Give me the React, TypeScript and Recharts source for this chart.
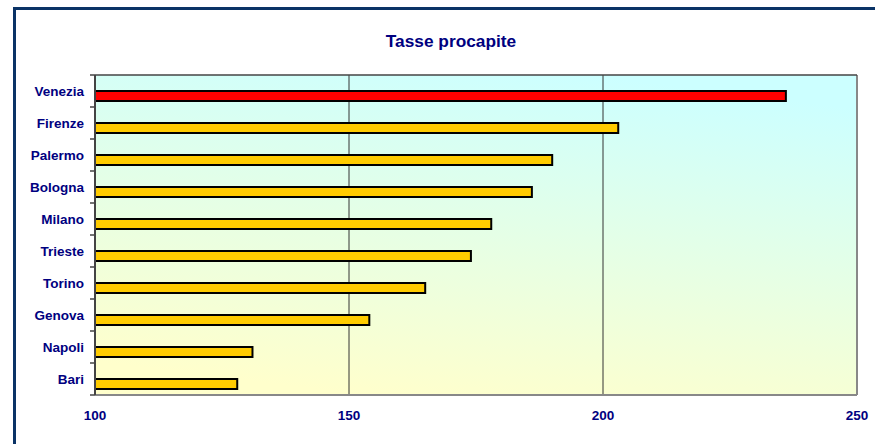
import React from 'react'
import { BarChart, Bar, XAxis, YAxis, CartesianGrid, ReferenceLine, Cell } from 'recharts'

// dati
const citta = ['Venezia', 'Firenze', 'Palermo', 'Bologna', 'Milano', 'Trieste', 'Torino', 'Genova', 'Napoli', 'Bari']
const tasse = [236, 203, 190, 186, 178, 174, 165, 154, 131, 128]
const xTicks = [100, 150, 200, 250]
const evidenziata = 'Venezia'

const data = citta.map((nome, i) => ({ nome, tasse: tasse[i] }))

const W = 875
const H = 444
const margin = { top: 70, right: 18, left: 15, bottom: 19 }
const topAxisH = 5
const bottomAxisH = 30
const yAxisW = 80
const plotH = H - margin.top - margin.bottom - topAxisH - bottomAxisH
const halfBand = plotH / citta.length / 2

const blu = '#000080'
const font = '"Liberation Sans", Arial, sans-serif'

const CityTick = (props: any) => {
  const { x, y, payload, index } = props
  const ax = x + 11
  return (
    <g>
      <line x1={ax - 5} x2={ax} y1={y - halfBand} y2={y - halfBand} stroke="#444" strokeWidth={1.5} />
      {index === citta.length - 1 && (
        <line x1={ax - 5} x2={ax} y1={y + halfBand} y2={y + halfBand} stroke="#444" strokeWidth={1.5} />
      )}
      <text x={x} y={y} dy="0.35em" textAnchor="end" fill={blu} fontSize={13.5} fontWeight="bold" fontFamily={font}>
        {payload.value}
      </text>
    </g>
  )
}

export default function App() {
  return (
    <div style={{ position: 'absolute', left: 0, top: 0, width: W, height: H, overflow: 'hidden', background: '#fff' }}>
      <div
        style={{
          position: 'absolute',
          left: 13,
          top: 7,
          width: W + 20,
          height: H + 20,
          border: '3px solid #0a3366',
        }}
      />
      <div
        style={{
          position: 'absolute',
          left: 0,
          top: 31,
          width: 902,
          textAlign: 'center',
          fontFamily: font,
          fontWeight: 'bold',
          fontSize: 17.3,
          color: blu,
        }}
      >
        Tasse procapite
      </div>
      <div style={{ position: 'absolute', left: 0, top: 0 }}>
        <BarChart width={W} height={H} data={data} layout="vertical" margin={margin} barGap={0}>
          <defs>
            <linearGradient id="sfondo" x1="0.35" y1="1" x2="0.65" y2="0">
              <stop offset="0%" stopColor="#ffffcc" />
              <stop offset="100%" stopColor="#ccffff" />
            </linearGradient>
          </defs>
          <CartesianGrid horizontal={false} stroke="#333" strokeWidth={1} fill="url(#sfondo)" fillOpacity={1} />
          <XAxis
            type="number"
            domain={[100, 250]}
            ticks={xTicks}
            tickLine={false}
            tickMargin={9}
            height={bottomAxisH}
            axisLine={{ stroke: '#888', strokeWidth: 2 }}
            tick={{ fill: blu, fontSize: 13.5, fontWeight: 'bold', fontFamily: font }}
          />
          <XAxis
            xAxisId="top"
            orientation="top"
            type="number"
            domain={[100, 250]}
            ticks={xTicks}
            height={topAxisH}
            tickSize={4}
            tickLine={{ stroke: '#444', strokeWidth: 1.5 }}
            axisLine={{ stroke: '#444', strokeWidth: 1.5 }}
            tick={() => <g />}
          />
          <YAxis
            type="category"
            dataKey="nome"
            width={yAxisW}
            tickLine={false}
            tickSize={5}
            tickMargin={6}
            axisLine={{ stroke: '#444', strokeWidth: 2 }}
            tick={CityTick}
            interval={0}
          />
          <ReferenceLine x={250} stroke="#888" strokeWidth={2} />
          <Bar dataKey="vuoto" barSize={10} isAnimationActive={false} />
          <Bar dataKey="tasse" barSize={10} stroke="#000" strokeWidth={2} isAnimationActive={false}>
            {data.map(d => (
              <Cell key={d.nome} fill={d.nome === evidenziata ? '#ff0000' : '#ffcc00'} />
            ))}
          </Bar>
        </BarChart>
      </div>
    </div>
  )
}
